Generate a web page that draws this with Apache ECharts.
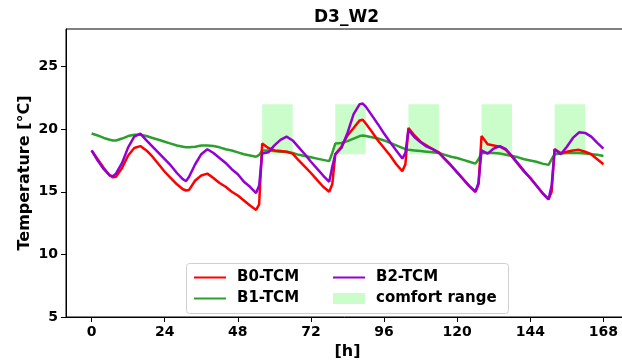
<!DOCTYPE html>
<html>
<head>
<meta charset="utf-8">
<script src="https://cdn.jsdelivr.net/npm/echarts@6/dist/echarts.min.js"></script>
<style>
  body { margin: 0; background: #fff; }
  #chart { width: 622px; height: 360px; }
</style>
</head>
<body>
<div id="chart"></div>
<script>
// hours of the week, sampled every 2 h with extra points around the jumps
var hours = [0,2,4,6,7,8,10,12,14,16,18,20,22,24,26,28,30,31,32,34,36,38,
  40,42,44,46,48,50,52,54,55,56,58,60,62,64,66,68,70,72,74,76,78,79,80,
  82,84,86,88,89,90,92,94,96,98,100,102,103,104,106,108,110,112,114,116,118,120,
  122,124,126,127,128,130,132,134,136,138,140,142,144,146,148,150,151,152,
  154,156,158,160,162,164,166,168];

var b0Tcm = [18.3,17.6,16.9,16.3,16.15,16.2,16.9,17.9,18.5,18.65,18.3,17.8,17.2,16.6,
  16.1,15.6,15.2,15.1,15.15,15.9,16.3,16.45,
  16.1,15.7,15.4,15.0,14.7,14.3,13.9,13.55,14.0,18.85,
  18.5,18.3,18.25,18.2,18.05,17.5,17.0,16.5,15.95,15.4,15.0,15.6,18.0,
  18.6,19.5,20.1,20.7,20.75,20.45,
  19.8,19.1,18.5,17.9,17.2,16.65,17.2,20.1,
  19.5,19.0,18.7,18.4,18.15,17.6,17.1,16.55,
  16.0,15.45,15.0,15.6,19.45,
  18.8,18.7,18.6,18.35,17.8,17.2,16.6,16.1,
  15.5,14.9,14.4,15.0,18.4,
  18.1,18.2,18.3,18.35,18.2,18.0,17.6,17.2];

var b1Tcm = [19.65,19.5,19.3,19.15,19.1,19.1,19.25,19.45,19.55,19.55,19.45,19.3,19.15,19.0,
  18.85,18.7,18.6,18.55,18.55,18.6,18.7,18.7,
  18.65,18.55,18.4,18.3,18.15,18.0,17.9,17.8,17.95,18.3,
  18.3,18.25,18.2,18.2,18.1,17.95,17.85,17.75,17.65,17.55,17.45,18.1,18.85,
  18.9,19.05,19.25,19.45,19.5,19.45,
  19.35,19.25,19.1,18.9,18.7,18.5,18.4,18.35,
  18.3,18.25,18.2,18.15,18.1,17.95,17.8,17.7,
  17.55,17.4,17.25,17.6,18.1,
  18.1,18.1,18.05,17.95,17.85,17.75,17.6,17.5,
  17.4,17.25,17.15,17.6,18.0,
  18.05,18.1,18.1,18.1,18.05,18.0,17.95,17.85];

var b2Tcm = [18.3,17.5,16.8,16.3,16.25,16.45,17.3,18.55,19.4,19.65,19.1,18.6,18.1,17.6,
  17.1,16.5,16.0,15.85,16.2,17.2,18.0,18.4,
  18.1,17.7,17.3,16.8,16.4,15.8,15.4,14.9,15.5,18.05,
  18.15,18.7,19.15,19.4,19.1,18.55,18.0,17.4,16.85,16.3,15.8,17.0,18.0,
  18.5,19.7,21.2,22.0,22.05,21.8,
  21.1,20.4,19.65,18.95,18.3,17.65,18.1,19.95,
  19.35,18.95,18.6,18.4,18.1,17.6,17.1,16.55,
  16.0,15.45,15.0,15.7,18.3,
  18.05,18.45,18.65,18.4,17.85,17.25,16.65,16.1,
  15.5,14.9,14.4,15.5,18.4,
  18.0,18.6,19.3,19.75,19.7,19.4,18.9,18.45];

// comfort range boxes
var comfortStart = [56, 80, 104, 128, 152];
var comfortEnd = [66, 90, 114, 138, 162];
var comfortLow = 18;
var comfortHigh = 22;

var xTicks = [0, 24, 48, 72, 96, 120, 144, 168];
var yTicks = [5, 10, 15, 20, 25];

var font = 'DejaVu Sans';

function pairs(values) {
  return hours.map(function (h, i) { return [h, values[i]]; });
}

var comfortData = comfortStart.map(function (s, i) {
  return [s, comfortEnd[i], comfortLow, comfortHigh];
});

var legendText = { fontFamily: font, fontSize: 15, fontWeight: 'bold', color: '#000', padding: [0, 0, 0, 6] };
// line legend icons would get a circle otherwise
var noSymbol = { opacity: 0 };

var chart = echarts.init(document.getElementById('chart'));
chart.setOption({
  animation: false,
  backgroundColor: '#fff',
  textStyle: { fontFamily: font },
  title: {
    text: 'D3_W2',
    left: 309,
    top: 4,
    textStyle: { fontFamily: font, fontSize: 17, fontWeight: 'bold', color: '#000' }
  },
  grid: {
    left: 66,
    top: 29,
    width: 563,
    height: 288,
    outerBoundsMode: 'none',
    show: true,
    borderColor: '#000',
    borderWidth: 1
  },
  legend: [{
    orient: 'vertical',
    left: 193,
    top: 270,
    padding: 0,
    itemWidth: 32,
    itemHeight: 11,
    itemGap: 6,
    data: [{ name: 'B0-TCM', itemStyle: noSymbol }, { name: 'B1-TCM', itemStyle: noSymbol }],
    textStyle: legendText
  }, {
    orient: 'vertical',
    left: 332,
    top: 270,
    padding: 0,
    itemWidth: 32,
    itemHeight: 11,
    itemGap: 6,
    data: [{ name: 'B2-TCM', itemStyle: noSymbol }, { name: 'comfort range', icon: 'rect' }],
    textStyle: legendText
  }],
  graphic: [{
    type: 'rect',
    left: 186,
    top: 263,
    shape: { width: 322, height: 50, r: 3 },
    style: { fill: 'rgba(255,255,255,0.8)', stroke: '#d0d0d0', lineWidth: 1 },
    z: 1
  }],
  xAxis: {
    type: 'value',
    min: -8.4,
    max: 176.4,
    name: '[h]',
    nameLocation: 'middle',
    nameGap: 25,
    nameTextStyle: { fontFamily: font, fontSize: 16, fontWeight: 'bold', color: '#000' },
    splitLine: { show: false },
    axisLine: { show: true, onZero: false, lineStyle: { color: '#000' } },
    axisTick: { show: true, length: 5, customValues: xTicks, lineStyle: { color: '#000' } },
    axisLabel: { customValues: xTicks, margin: 8, fontFamily: font, fontSize: 14, fontWeight: 'bold', color: '#000' }
  },
  yAxis: {
    type: 'value',
    min: 5,
    max: 28,
    name: 'Temperature [°C]',
    nameLocation: 'middle',
    nameGap: 33,
    nameMoveOverlap: false,
    nameTextStyle: { fontFamily: font, fontSize: 16, fontWeight: 'bold', color: '#000' },
    splitLine: { show: false },
    axisLine: { show: true, onZero: false, lineStyle: { color: '#000' } },
    axisTick: { show: true, length: 5, customValues: yTicks, lineStyle: { color: '#000' } },
    axisLabel: { customValues: yTicks, margin: 8, fontFamily: font, fontSize: 14, fontWeight: 'bold', color: '#000' }
  },
  series: [{
    name: 'comfort range',
    type: 'custom',
    itemStyle: { color: 'rgba(152,251,152,0.5)' },
    encode: { x: [0, 1], y: [2, 3] },
    data: comfortData,
    z: 1,
    renderItem: function (params, api) {
      var p1 = api.coord([api.value(0), api.value(3)]);
      var p2 = api.coord([api.value(1), api.value(2)]);
      return {
        type: 'rect',
        shape: { x: p1[0], y: p1[1], width: p2[0] - p1[0], height: p2[1] - p1[1] },
        style: { fill: 'rgba(152,251,152,0.5)' }
      };
    }
  }, {
    name: 'B0-TCM',
    type: 'line',
    symbol: 'none',
    color: '#ff0000',
    lineStyle: { width: 2.5 },
    data: pairs(b0Tcm),
    z: 3
  }, {
    name: 'B1-TCM',
    type: 'line',
    symbol: 'none',
    color: '#2ca02c',
    lineStyle: { width: 2.5 },
    data: pairs(b1Tcm),
    z: 2
  }, {
    name: 'B2-TCM',
    type: 'line',
    symbol: 'none',
    color: '#9400d3',
    lineStyle: { width: 2.5 },
    data: pairs(b2Tcm),
    z: 4
  }]
});
</script>
</body>
</html>
